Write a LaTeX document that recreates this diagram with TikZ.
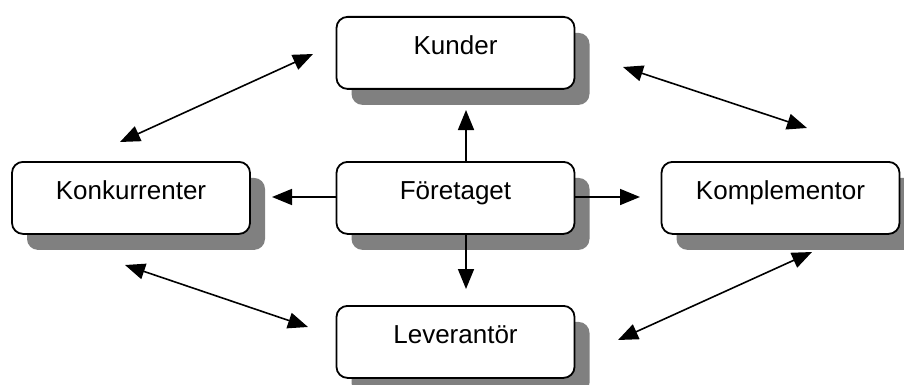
\documentclass[tikz,border=0pt]{standalone}
\usepackage{fontspec}
\setmainfont{Liberation Sans}
\usetikzlibrary{arrows.meta,shadows}
\begin{document}
\begin{tikzpicture}[x=1pt,y=-1pt,
  box/.style={draw=black, line width=1.8pt, fill=white, rounded corners=11pt,
    minimum width=238pt, inner sep=0pt, text height=38pt, text depth=34pt,
    anchor=north, font=\fontsize{26}{30}\selectfont,
    general shadow={fill=black!50, shadow xshift=15pt, shadow yshift=-16pt}},
  arr/.style={line width=1.6pt, -{Triangle[length=20pt,width=16pt]}},
  darr/.style={line width=1.6pt, {Triangle[length=20pt,width=16pt]}-{Triangle[length=20pt,width=16pt]}}]
\useasboundingbox (0,0) rectangle (904,385);
\clip (0,0) rectangle (904,385);
\node[box] (kun) at (455.5,16) {Kunder};
\node[box] (kon) at (131,161) {Konkurrenter};
\node[box] (for) at (455.5,161) {Företaget};
\node[box] (kom) at (780.5,161) {Komplementor};
\node[box] (lev) at (455.5,305) {Leverantör};
% free ends
\coordinate (fu) at (466,110);
\coordinate (fd) at (466,289);
\coordinate (fl) at (272,197);
\coordinate (fr) at (640,197);
\coordinate (a1) at (120,142); \coordinate (a2) at (313,54);
\coordinate (b1) at (623,67);  \coordinate (b2) at (807,128);
\coordinate (c1) at (125,265); \coordinate (c2) at (308,327);
\coordinate (d1) at (812,252); \coordinate (d2) at (618,340);
\draw[arr] (for.north -| fu) -- (fu);
\draw[arr] (for.south -| fd) -- (fd);
\draw[arr] (for.west |- fl) -- (fl);
\draw[arr] (for.east |- fr) -- (fr);
\draw[darr] (a1) -- (a2);
\draw[darr] (b1) -- (b2);
\draw[darr] (c1) -- (c2);
\draw[darr] (d1) -- (d2);
\end{tikzpicture}
\end{document}
